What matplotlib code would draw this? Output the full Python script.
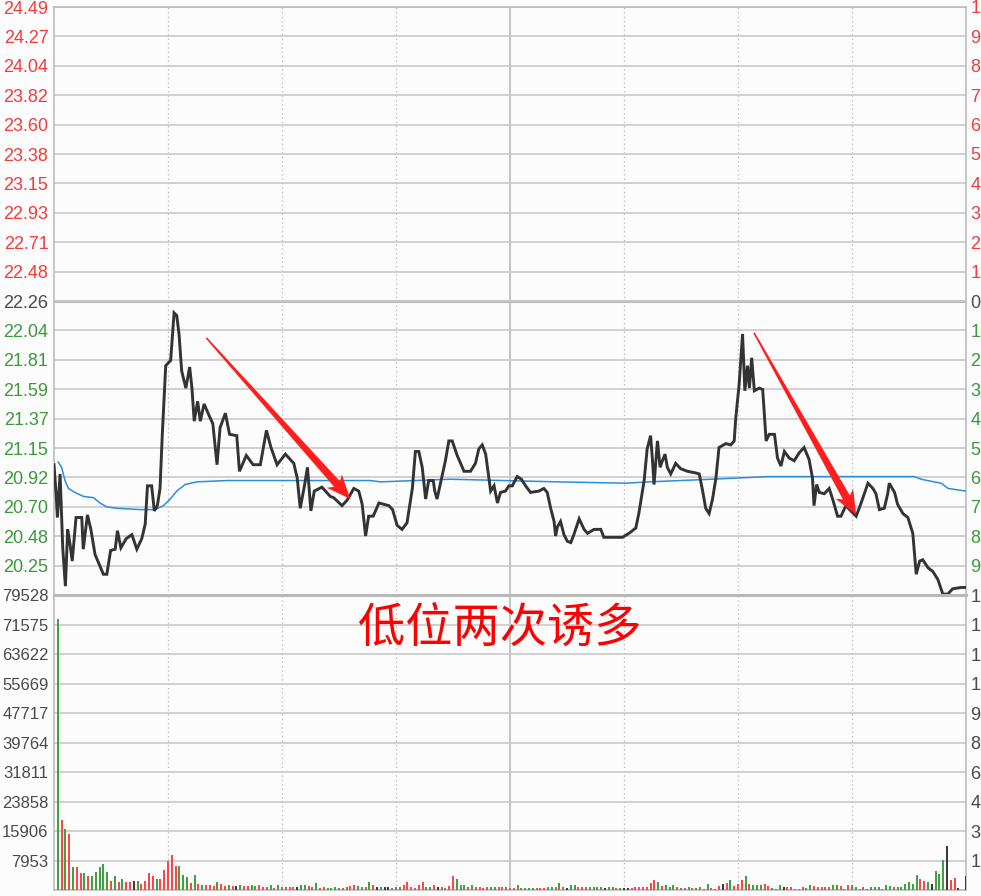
import numpy as np
import matplotlib.pyplot as plt
from matplotlib.patches import Polygon
from matplotlib.transforms import IdentityTransform

plt.rcParams['font.family'] = ['Liberation Sans', 'DejaVu Sans']

# ---------------- data ----------------
prev_close = 22.26
price_low, price_high = 20.033, 24.487
vol_high = 79528

# minutes after 09:30 (afternoon continues after 120) and price
price_min = [0, 0.5, 0.9, 1.6, 2.3, 3.0, 3.6, 4.2, 4.8, 5.8, 7.3, 7.7, 8.8, 9.7, 10.8,
             13.0, 13.9, 14.9, 16.1, 16.7, 17.6, 19.0, 20.5, 21.8, 23.1, 24.0, 24.6,
             25.7, 26.4, 27.2, 27.9, 28.5, 29.4, 30.7, 31.6, 32.3, 32.9, 33.6, 34.7,
             35.7, 36.3, 36.9, 37.8, 38.5, 39.5, 40.7, 41.8, 42.9, 43.7, 45.1, 46.2,
             48.1, 48.8, 50.6, 52.4, 54.3, 55.9, 57.1, 58.7, 60.9, 63.1, 64.0, 64.8,
             65.9, 66.7, 67.6, 68.5, 70.5, 72.7, 73.6, 75.8, 77.1, 78.9, 80.2, 81.1,
             82.0, 82.8, 84.0, 85.5, 88.1, 89.1, 90.3, 91.6, 92.9, 94.3, 95.1, 96.0,
             96.9, 97.8, 98.6, 99.8, 100.2, 100.8, 101.7, 103.0, 103.9, 104.8, 106.1,
             107.9, 109.6, 110.9, 111.8, 112.7, 113.6, 114.9, 115.8, 116.7, 117.5,
             118.8, 119.7, 120.6, 121.9, 123.0, 124.1, 125.4, 127.6, 128.9, 129.8,
             130.7, 131.6, 132.0, 132.5, 133.3, 134.2, 135.1, 136.0, 136.8, 138.2,
             139.5, 140.4, 142.1, 143.9, 144.7, 149.6, 151.3, 153.1, 153.9, 155.3,
             156.1, 157.0, 157.5, 157.9, 158.8, 159.5, 160.1, 160.8, 161.4, 162.3,
             163.6, 164.9, 166.7, 168.5, 169.8, 170.7, 171.5, 172.4, 173.3, 174.2,
             175.0, 176.8, 178.1, 179.0, 179.4, 180.3, 181.2, 181.8, 182.5, 183.0,
             183.6, 184.3, 185.6, 186.5, 187.4, 188.2, 189.6, 190.4, 191.3, 192.2,
             193.5, 194.8, 196.1, 197.4, 198.7, 199.6, 200.0, 200.7, 201.4, 202.7,
             204.0, 204.9, 206.2, 207.1, 208.4, 209.7, 211.1, 212.4, 214.2, 215.5,
             216.3, 217.2, 218.5, 219.4, 219.8, 221.2, 222.0, 223.4, 224.7, 226.0,
             226.9, 227.8, 228.6, 230.0, 231.3, 232.6, 233.9, 235.2, 236.5, 238.7, 240.0]
price_val = [21.02, 20.82, 20.62, 20.95, 20.39, 20.10, 20.53, 20.42, 20.29, 20.62, 20.62,
             20.38, 20.64, 20.53, 20.34, 20.19, 20.19, 20.37, 20.38, 20.52, 20.39, 20.46,
             20.49, 20.38, 20.46, 20.57, 20.86, 20.86, 20.67, 20.71, 20.84, 21.25, 21.77,
             21.81, 22.17, 22.15, 22.01, 21.73, 21.60, 21.76, 21.60, 21.35, 21.50, 21.35,
             21.48, 21.40, 21.33, 21.02, 21.30, 21.41, 21.25, 21.24, 20.97, 21.09, 21.02,
             21.02, 21.28, 21.15, 21.02, 21.10, 21.03, 20.92, 20.69, 20.86, 21.00, 20.67,
             20.82, 20.85, 20.78, 20.77, 20.71, 20.75, 20.84, 20.82, 20.72, 20.48, 20.63,
             20.63, 20.73, 20.71, 20.68, 20.56, 20.53, 20.58, 20.84, 21.12, 21.12, 21.00,
             20.76, 20.90, 20.90, 20.82, 20.76, 20.88, 21.05, 21.20, 21.20, 21.09, 20.97,
             20.97, 21.03, 21.14, 21.17, 21.10, 20.82, 20.86, 20.73, 20.81, 20.82, 20.86,
             20.86, 20.93, 20.91, 20.86, 20.81, 20.82, 20.84, 20.81, 20.69, 20.59, 20.48,
             20.55, 20.59, 20.49, 20.44, 20.43, 20.49, 20.61, 20.53, 20.50, 20.53, 20.53,
             20.47, 20.47, 20.50, 20.54, 20.65, 20.90, 21.14, 21.24, 21.05, 20.87, 21.20,
             21.00, 21.05, 21.10, 21.00, 20.95, 21.03, 20.99, 20.97, 20.96, 20.95, 20.82,
             20.69, 20.65, 20.76, 20.92, 21.15, 21.18, 21.17, 21.20, 21.37, 21.63, 22.01,
             21.58, 21.77, 21.60, 21.83, 21.58, 21.60, 21.59, 21.20, 21.25, 21.25, 21.07,
             21.01, 21.12, 21.07, 21.05, 21.11, 21.15, 21.06, 20.92, 20.71, 20.87, 20.81,
             20.80, 20.84, 20.76, 20.63, 20.63, 20.71, 20.67, 20.63, 20.73, 20.88, 20.84,
             20.80, 20.68, 20.69, 20.80, 20.88, 20.81, 20.72, 20.65, 20.62, 20.50, 20.19,
             20.29, 20.30, 20.24, 20.21, 20.15, 20.04, 20.04, 20.08, 20.09, 20.09]

# average price line
avg_min = [1.1, 2.0, 2.9, 3.8, 5.5, 7.7, 10.4, 12.1, 13.9, 16.5, 22.7, 26.6, 28.8, 30.6,
           32.3, 34.5, 37.6, 45.5, 83.3, 85.9, 104.3, 132.5, 150.5, 156.5, 164.9, 180.8,
           187.9, 226.4, 228.2, 231.6, 233.5, 235.3, 240.0]
avg_val = [21.04, 21.00, 20.90, 20.84, 20.81, 20.78, 20.77, 20.73, 20.70, 20.69, 20.68,
           20.68, 20.71, 20.76, 20.82, 20.87, 20.89, 20.90, 20.90, 20.89, 20.91, 20.89,
           20.88, 20.89, 20.90, 20.92, 20.93, 20.93, 20.91, 20.89, 20.88, 20.84, 20.82]

# volume per minute (minutes 1..240) and direction r=up g=down k=flat
vol = [72950, 18870, 16360, 15100, 6290, 6290, 4670, 4670, 3770, 3770,
       4940, 6110, 7010, 4940, 2520, 3770, 2240, 2970, 2160, 2160,
       2520, 2520, 1710, 2520, 4490, 3770, 2970, 2970, 5390, 7820,
       9330, 6560, 6560, 4100, 3410, 1800, 4100, 1710, 1350, 1350,
       1350, 1080, 2070, 1710, 1080, 1350, 1080, 1080, 1350, 1080,
       1080,
       1350, 1080, 1350, 900, 900, 1350, 450, 1350, 900, 900,
       900, 900, 900, 1350, 1350, 1080, 900, 1800, 450, 900,
       450, 450, 900, 450, 450, 900, 1080, 1350, 1080, 900,
       900, 2250, 1350, 900, 900, 900, 900, 450, 900, 900,
       1350, 2250, 900, 450, 1350, 2250, 900, 900, 1350, 900,
       900, 450, 1080, 3770, 3050, 1350, 1350, 900, 1350, 900,
       900, 450, 900, 900, 900, 900, 900, 720, 450, 450,
       1350, 450, 450, 450, 450, 450, 450, 450, 720, 900,
       720, 1800, 900, 450, 1350, 1350, 900, 900, 900, 900,
       900, 900, 900, 450, 900, 900, 450, 450, 450, 450,
       450, 900, 900, 900, 900, 1800, 2700, 2250, 1080, 1350,
       900, 1350, 900, 450, 450, 900, 450, 450, 900,
       360, 1530, 630, 360, 990, 1530, 1890, 2610, 990, 1710,
       2790, 3690, 1530, 1260, 1260, 1260, 1530, 990, 630, 360,
       1260, 810, 810, 810, 360, 360, 810, 630, 1260, 990,
       810, 810, 810, 810, 1260, 1260, 990, 360, 1260, 1260,
       810, 360, 810, 360, 810, 810, 810, 360, 1260, 990,
       810, 810, 810, 1530, 2160, 1710, 3950, 3060, 2430, 2160,
       1710, 5120, 4220, 8180, 11770, 2790, 3330, 630,
       0, 3690]
vol_dir = ("grgrgrrgrg" "ggggrgrgrr" "kgrrrrgrrr" "rrgggrgrgr" "rrgrrgrkgr" "r"
           "ggrrrgrgrg" "rrkggrrgrr" "ggggrgrrgr" "ggrkgkkggg" "rrrrrrggrk"
           "grrrgggrgr" "rrrggrrgrr" "grgggrrrgg" "rgrkggrrrg" "gggkggrgkk"
           "rrrrrrrgrg" "ggrgrgrgr"
           "rgrrrkrgrr" "rgrgggrrgr" "gkrrgrrggr" "rrgrggrrrg" "grrrgggrgg"
           "rggggggrrg" "kgggkrrk" "kk")

left_price_labels = ['', '20.25', '20.48', '20.70', '20.92', '21.15', '21.37', '21.59',
                     '21.81', '22.04', '22.26', '22.48', '22.71', '22.93', '23.15',
                     '23.38', '23.60', '23.82', '24.04', '24.27', '24.49']
right_price_labels = ['', '9', '8', '7', '6', '5', '4', '3', '2', '1', '0',
                      '1', '2', '3', '4', '5', '6', '7', '8', '9', '1']
left_vol_labels = ['', '7953', '15906', '23858', '31811', '39764', '47717', '55669',
                   '63622', '71575', '79528']
right_vol_labels = ['', '1', '3', '4', '6', '8', '9', '1', '1', '1', '1']

title_text = '低位两次诱多'
# arrows: (start minute, start price) -> (tip minute, tip price)
arrows = [((40.1, 21.98), (78.0, 20.76)), ((184.2, 22.02), (211.1, 20.64))]

# ---------------- style ----------------
RED, GREEN, DARK = '#f23c3c', '#3a9a3a', '#4a4a4a'
GRID = '#c9c9c9'
BG = '#fcfcfc'
W, H = 981, 896

fig = plt.figure(figsize=(W / 100, H / 100), dpi=100, facecolor=BG)
ax = fig.add_axes([54 / W, 301 / H, 912 / W, 588 / H], facecolor=BG)
axv = fig.add_axes([54 / W, 6 / H, 912 / W, 295 / H], facecolor=BG)

price_ticks = np.linspace(price_low, price_high, 21)
vol_ticks = np.linspace(0, vol_high, 11)


def label_color(v):
    if abs(v - prev_close) < 0.01:
        return DARK
    return RED if v > prev_close else GREEN


for a in (ax, axv):
    a.set_xlim(0, 240)
    a.set_xticks([])
    for m in [30, 60, 90, 150, 180, 210]:
        a.axvline(m, color='#b5b5b5', lw=0.9, ls=(0, (1, 2.5)), zorder=1)
    a.axvline(120, color='#c4c4c4', lw=1.4, zorder=1)
    for s in a.spines.values():
        s.set_color('#bdbdbd')
        s.set_linewidth(1.2)

# price pane
ax.set_ylim(price_low, price_high)
ax.set_yticks(price_ticks)
ax.set_yticklabels(left_price_labels)
ax.grid(axis='y', color=GRID, lw=1.2, zorder=1)
ax.axhline(prev_close, color='#b8b8b8', lw=2.2, zorder=1)
ax.spines['bottom'].set_linewidth(2.2)
ax.spines['bottom'].set_color('#b8b8b8')
ax.tick_params(axis='y', length=0, pad=4, labelsize=13)
for lbl, v in zip(ax.get_yticklabels(), price_ticks):
    lbl.set_color(label_color(v))

ax.plot(avg_min, avg_val, color='#2b8de0', lw=1.1, zorder=3)
ax.plot(price_min, price_val, color='#333333', lw=2.1, zorder=4,
        solid_joinstyle='miter')

axr = ax.twinx()
axr.set_ylim(price_low, price_high)
axr.set_yticks(price_ticks)
axr.set_yticklabels(right_price_labels)
axr.tick_params(axis='y', length=0, pad=3, labelsize=13)
for lbl, v in zip(axr.get_yticklabels(), price_ticks):
    lbl.set_color(label_color(v))
for s in axr.spines.values():
    s.set_visible(False)

# volume pane
cmap = {'r': '#ff4545', 'g': '#3ea23e', 'k': '#3a3a3a'}
vol_min = np.arange(1, len(vol) + 1)
axv.bar(vol_min, vol, width=0.55, color=[cmap[c] for c in vol_dir], zorder=3)
axv.set_ylim(0, vol_high)
axv.set_yticks(vol_ticks)
axv.set_yticklabels(left_vol_labels)
axv.grid(axis='y', color=GRID, lw=1.2, zorder=1)
axv.spines['top'].set_linewidth(2.2)
axv.spines['top'].set_color('#b8b8b8')
axv.tick_params(axis='y', length=0, pad=4, labelsize=12, labelcolor=DARK)

axvr = axv.twinx()
axvr.set_ylim(0, vol_high)
axvr.set_yticks(vol_ticks)
axvr.set_yticklabels(right_vol_labels)
axvr.tick_params(axis='y', length=0, pad=3, labelsize=13, labelcolor=DARK)
for s in axvr.spines.values():
    s.set_visible(False)

# red tapered arrows drawn in pixel space from data anchors
for (start, tip) in arrows:
    p0 = np.array(ax.transData.transform(start))
    p1 = np.array(ax.transData.transform(tip))
    u = (p1 - p0) / np.linalg.norm(p1 - p0)
    n = np.array([-u[1], u[0]])
    base = p1 - u * 20
    pts = [p0 + n * 0.8, base + n * 4, base - u * 4 + n * 10, p1,
           base - u * 4 - n * 10, base - n * 4, p0 - n * 0.8]
    fig.add_artist(Polygon(pts, closed=True, transform=IdentityTransform(),
                           facecolor='#ff1e1e', edgecolor='none', zorder=6))

fig.text(500 / W, 1 - 628 / H, title_text, fontsize=34, color='#ff0000',
         ha='center', va='center', family=['Noto Sans CJK SC', 'DejaVu Sans'])

fig.savefig('out.png', dpi=100, facecolor=BG)
